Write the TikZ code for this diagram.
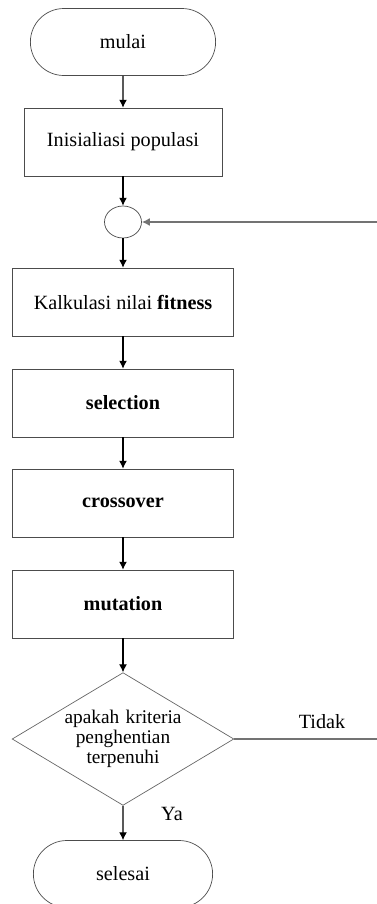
\documentclass[tikz,border=0pt]{standalone}
\usepackage{fontspec}
\setmainfont{Liberation Serif}
\usetikzlibrary{shapes.geometric,shapes.misc,arrows.meta}

\begin{document}
\begin{tikzpicture}[x=0.02cm, y=-0.02cm,
    font=\fontsize{11.5}{13}\selectfont,
    terminal/.style={draw=black!70, rounded rectangle, minimum width=3.94cm, minimum height=1.34cm},
    proses/.style={draw=black!70, rectangle, minimum width=4.42cm, minimum height=1.36cm},
    keputusan/.style={draw=black!60, diamond, aspect=1.67, inner sep=0pt, minimum width=4.42cm,
        minimum height=2.64cm, text width=2.5cm, align=center, font=\fontsize{11}{11.5}\selectfont},
    panah/.style={-{Latex[length=4.5pt,width=4.5pt]}, line width=0.6pt},
    balik/.style={-{Latex[length=4.5pt,width=4.5pt]}, line width=0.8pt, black!55}
]
    \useasboundingbox (0,0) rectangle (377,904);

    % Start
    \node[terminal] (mulai) at (123,42) {mulai};
    \node[proses, minimum width=3.96cm] (init) at (123,142) {Inisialiasi populasi};

    % Join point of the loop
    \node[draw=black!70, ellipse, minimum width=0.74cm, minimum height=0.64cm, inner sep=0pt] (sambung) at (123,222) {};

    % Steps of the algorithm
    \node[proses] (fitness) at (123,302) {Kalkulasi nilai \textbf{fitness}};
    \node[proses] (seleksi) at (123,403) {\textbf{selection}};
    \node[proses] (crossover) at (123,503) {\textbf{crossover}};
    \node[proses] (mutasi) at (123,604) {\textbf{mutation}};

    % Stop test
    \node[keputusan] (cek) at (123,739) {apakah kriteria\\ penghentian\\ terpenuhi};
    \node[terminal, minimum width=3.82cm] (selesai) at (123,874) {selesai};

    % Labels
    \node (ya) at (172,814) {Ya};
    \node (tidak) at (322,722) {Tidak};

    % Arrows
    \draw[panah] (mulai) -- (init);
    \draw[panah] (init) -- (sambung);
    \draw[panah] (sambung) -- (fitness);
    \draw[panah] (fitness) -- (seleksi);
    \draw[panah] (seleksi) -- (crossover);
    \draw[panah] (crossover) -- (mutasi);
    \draw[panah] (mutasi) -- (cek);
    \draw[panah] (cek) -- (selesai);

    % Loop back
    \coordinate (kanan) at (386,739);
    \draw[balik] (cek.east) -- (kanan) |- (sambung.east);
\end{tikzpicture}
\end{document}
